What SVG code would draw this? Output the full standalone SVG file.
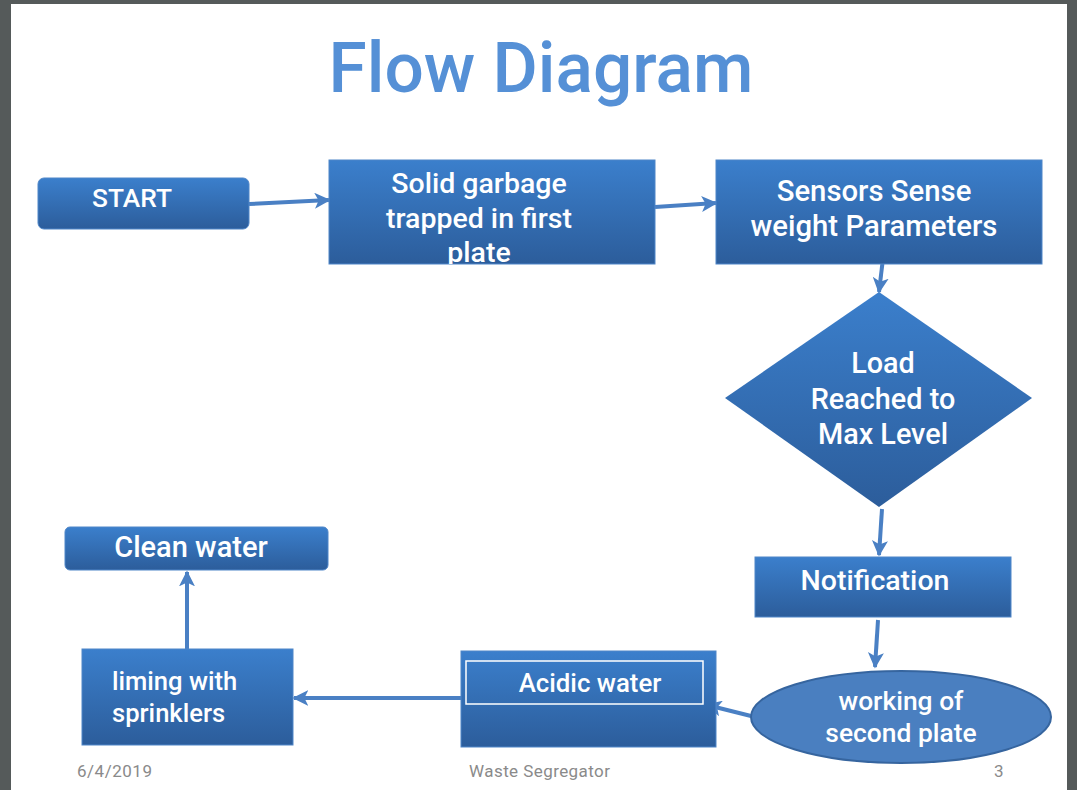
<svg xmlns="http://www.w3.org/2000/svg" width="1077" height="790" viewBox="0 0 1077 790">
<defs>
<linearGradient id="g" x1="0" y1="0" x2="0" y2="1">
<stop offset="0" stop-color="#3b7fcc"/>
<stop offset="1" stop-color="#2c5d9b"/>
</linearGradient>
<marker id="ah" viewBox="0 0 10 10" refX="9" refY="5" markerWidth="4" markerHeight="4" orient="auto" markerUnits="strokeWidth">
<path d="M0,0 L10,5 L0,10 L2.5,5 z" fill="#4a80c4"/>
</marker>
<clipPath id="clipSolid"><rect x="329" y="160" width="326" height="104"/></clipPath>
</defs>
<style>
.box{fill:url(#g);stroke:#4f86c8;stroke-width:1}
.t{font-family:Roboto,"Liberation Sans",sans-serif;fill:#ffffff;font-size:28.5px;font-weight:500;text-anchor:middle}
.l{text-anchor:start}
.c{fill:none;stroke:#4a80c4;stroke-width:4;marker-end:url(#ah)}
.f{font-family:Roboto,"Liberation Sans",sans-serif;fill:#8a8a8a;font-size:17px}
</style>
<rect x="0" y="0" width="1077" height="790" fill="#555a5a"/>
<rect x="11" y="4" width="1056" height="786" fill="#ffffff"/>
<text x="541" y="92" font-family="Roboto,'Liberation Sans',sans-serif" font-weight="500" font-size="70" fill="#5590d6" text-anchor="middle" textLength="425" lengthAdjust="spacingAndGlyphs">Flow Diagram</text>

<g id="connectors">
<path class="c" d="M249,204 L329,200"/>
<path class="c" d="M655,207 L716,203"/>
<path class="c" d="M884,250 L879,292"/>
<path class="c" d="M882,509 L879,555"/>
<path class="c" d="M878,620 L875,667"/>
<path class="c" d="M751,716 L707,705"/>
<path class="c" d="M461,698 L294,698"/>
<path class="c" d="M187,649 L187,572"/>
</g>

<g id="start">
<rect class="box" x="38" y="178" width="211" height="51" rx="6"/>
<text class="t" x="132" y="207" style="font-size:26.3px">START</text>
</g>
<g id="solid">
<rect class="box" x="329" y="160" width="326" height="104"/>
<g clip-path="url(#clipSolid)">
<text class="t" x="479" y="193">Solid garbage</text>
<text class="t" x="479" y="228">trapped in first</text>
<text class="t" x="479" y="262">plate</text>
</g>
</g>
<g id="sensors">
<rect class="box" x="716" y="160" width="326" height="104"/>
<text class="t" x="874" y="201" style="font-size:29.3px">Sensors Sense</text>
<text class="t" x="874" y="236" style="font-size:29.3px">weight Parameters</text>
</g>
<g id="decision">
<polygon fill="url(#g)" points="879,292 1032,398 879,507 725,398"/>
<text class="t" x="883" y="373" style="font-size:28.8px">Load</text>
<text class="t" x="883" y="409" style="font-size:28.8px">Reached to</text>
<text class="t" x="883" y="444" style="font-size:28.8px">Max Level</text>
</g>
<g id="notification">
<rect class="box" x="755" y="557" width="256" height="60"/>
<text class="t" x="875" y="590">Notification</text>
</g>
<g id="second">
<ellipse cx="901" cy="717" rx="150" ry="46" fill="#4a7fc0" stroke="#36659f" stroke-width="2"/>
<text class="t" x="901" y="710" style="font-size:26.4px">working of</text>
<text class="t" x="901" y="742" style="font-size:26.4px">second plate</text>
</g>
<g id="acidic">
<rect class="box" x="461" y="651" width="255" height="96"/>
<rect x="466" y="661" width="237" height="43" fill="none" stroke="#ffffff" stroke-width="1.5"/>
<text class="t" x="590" y="692" style="font-size:25.8px">Acidic water</text>
</g>
<g id="liming">
<rect class="box" x="82" y="649" width="211" height="96"/>
<text class="t l" x="112" y="690" style="font-size:25.6px">liming with</text>
<text class="t l" x="112" y="722" style="font-size:25.6px">sprinklers</text>
</g>
<g id="clean">
<rect class="box" x="65" y="527" width="263" height="43" rx="5"/>
<text class="t" x="191" y="557" style="font-size:29px">Clean water</text>
</g>

<text class="f" x="77" y="777" textLength="75">6/4/2019</text>
<text class="f" x="469" y="777" textLength="141">Waste Segregator</text>
<text class="f" x="994" y="777">3</text>
</svg>
